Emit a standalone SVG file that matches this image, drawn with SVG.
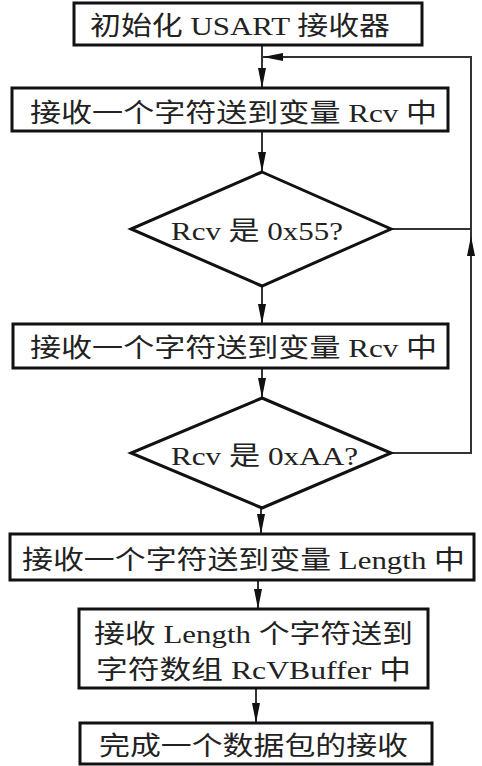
<svg xmlns="http://www.w3.org/2000/svg" width="482" height="766" viewBox="0 0 482 766">
<defs>
<marker id="ah" markerWidth="20" markerHeight="8" refX="20" refY="4" viewBox="0 0 20 8" orient="auto" markerUnits="userSpaceOnUse">
<path d="M0,0 L20,4 L0,8 Z" fill="#111"/>
</marker>
<style>
.box{fill:#fff;stroke:#111;stroke-width:3}
.con{fill:none;stroke:#333;stroke-width:2}
.t{font-family:"Liberation Serif","Noto Sans CJK SC",serif;font-size:26px;fill:#222;text-anchor:start}
</style>
</defs>
<rect width="482" height="766" fill="#fff"/>
<g id="connectors">
<path class="con" d="M262,45 V88" marker-end="url(#ah)"/>
<path class="con" d="M391,229 H471"/>
<path class="con" d="M391,453 H471 V57 H262" />
<path class="con" d="M471,300 V236" marker-end="url(#ah)"/>
<path class="con" d="M300,57 H263" marker-end="url(#ah)"/>
<path class="con" d="M262,131 V172" marker-end="url(#ah)"/>
<path class="con" d="M262,286 V324" marker-end="url(#ah)"/>
<path class="con" d="M262,368 V398" marker-end="url(#ah)"/>
<path class="con" d="M261,508 V534" marker-end="url(#ah)"/>
<path class="con" d="M258,580 V609" marker-end="url(#ah)"/>
<path class="con" d="M256,688 V723" marker-end="url(#ah)"/>
</g>
<g id="n1">
<rect class="box" x="74" y="3" width="348" height="42"/>
<text class="t" x="90" y="35" textLength="300" lengthAdjust="spacingAndGlyphs">初始化 USART 接收器</text>
</g>
<g id="n2">
<rect class="box" x="12" y="88" width="436" height="43"/>
<text class="t" x="30" y="122" textLength="407" lengthAdjust="spacingAndGlyphs">接收一个字符送到变量 Rcv 中</text>
</g>
<g id="d1">
<polygon class="box" points="262,172 391,229 262,286 131,229"/>
<text class="t" x="171" y="240" textLength="172" lengthAdjust="spacingAndGlyphs">Rcv 是 0x55?</text>
</g>
<g id="n3">
<rect class="box" x="13" y="324" width="435" height="44"/>
<text class="t" x="30" y="357" textLength="407" lengthAdjust="spacingAndGlyphs">接收一个字符送到变量 Rcv 中</text>
</g>
<g id="d2">
<polygon class="box" points="262,398 391,453 262,508 131,453"/>
<text class="t" x="171" y="465" textLength="187" lengthAdjust="spacingAndGlyphs">Rcv 是 0xAA?</text>
</g>
<g id="n4">
<rect class="box" x="10" y="534" width="464" height="46"/>
<text class="t" x="22" y="569" textLength="443" lengthAdjust="spacingAndGlyphs">接收一个字符送到变量 Length 中</text>
</g>
<g id="n5">
<rect class="box" x="79" y="609" width="349" height="79"/>
<text class="t" x="94" y="643" textLength="319" lengthAdjust="spacingAndGlyphs">接收 Length 个字符送到</text>
<text class="t" x="96" y="679" textLength="315" lengthAdjust="spacingAndGlyphs">字符数组 RcVBuffer 中</text>
</g>
<g id="n6">
<rect class="box" x="80" y="723" width="352" height="41"/>
<text class="t" x="99" y="755" textLength="309" lengthAdjust="spacingAndGlyphs">完成一个数据包的接收</text>
</g>
</svg>
